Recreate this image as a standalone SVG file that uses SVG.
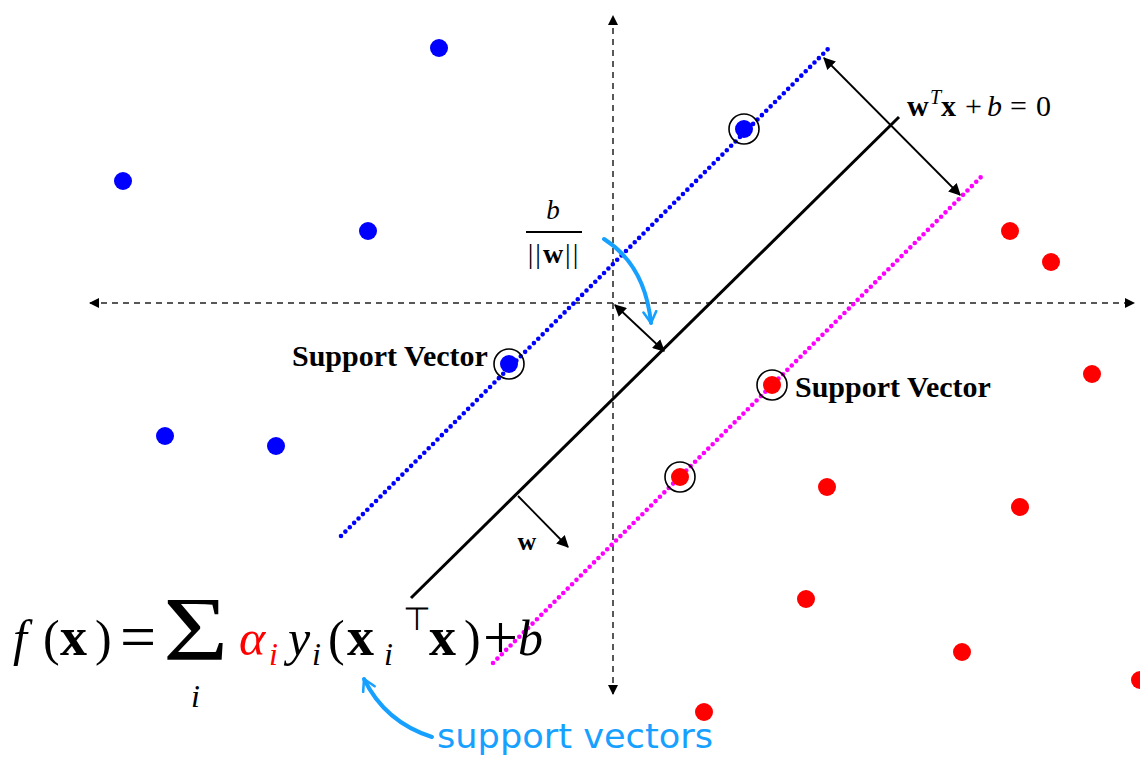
<svg xmlns="http://www.w3.org/2000/svg" width="1140" height="759" viewBox="0 0 1140 759">
<style>
.axis{stroke:#222;stroke-width:1.5;stroke-dasharray:6 5;fill:none}
.blueline{stroke:#0000ff;stroke-width:4.6;stroke-dasharray:0 6.2;stroke-linecap:round;fill:none}
.magline{stroke:#ff00ff;stroke-width:4.6;stroke-dasharray:0 6.2;stroke-linecap:round;fill:none}
.hyper{stroke:#000;stroke-width:3;fill:none}
.arr{stroke:#000;stroke-width:1.8;fill:none}
.cyan{stroke:#16a0ff;stroke-width:4;fill:none;stroke-linecap:round}
.bdot{fill:#0000ff}
.rdot{fill:#ff0000}
.ring{fill:none;stroke:#000;stroke-width:1.6}
.sv{font-family:"Liberation Serif",serif;font-weight:bold;font-size:30px;fill:#000}
.m{font-family:"Liberation Serif",serif;fill:#000}
.red{fill:#ff0000}
.it{font-style:italic}
.bf{font-weight:bold}
.note{font-family:"DejaVu Sans",sans-serif;font-size:33px;fill:#16a0ff}
</style>
<defs>
<marker id="ah" viewBox="0 0 10 10" refX="9" refY="5" markerWidth="10" markerHeight="10" markerUnits="userSpaceOnUse" orient="auto-start-reverse">
<path d="M0,0 L10,5 L0,10 Z" fill="#000"/>
</marker>
<marker id="ah2" viewBox="0 0 10 10" refX="9" refY="5" markerWidth="12" markerHeight="12" markerUnits="userSpaceOnUse" orient="auto-start-reverse">
<path d="M0,0 L10,5 L0,10 Z" fill="#000"/>
</marker>
<marker id="cy" viewBox="0 0 10 10" refX="8" refY="5" markerWidth="16" markerHeight="16" markerUnits="userSpaceOnUse" orient="auto">
<path d="M1,1 L8,5 L1,9" fill="none" stroke="#16a0ff" stroke-width="1.6" stroke-linecap="round" stroke-linejoin="round"/>
</marker>
</defs>
<g id="connectors">
<line class="axis" x1="613" y1="694" x2="613" y2="16" marker-start="url(#ah)" marker-end="url(#ah)"/>
<line class="axis" x1="90" y1="303" x2="1134" y2="303" marker-start="url(#ah)" marker-end="url(#ah)"/>
<line class="blueline" x1="341" y1="536" x2="829" y2="48"/>
<line class="magline" x1="493" y1="663" x2="982" y2="176"/>
<line class="hyper" x1="411" y1="598" x2="899" y2="117"/>
<line class="arr" x1="824" y1="58" x2="960" y2="195" marker-start="url(#ah2)" marker-end="url(#ah2)"/>
<line class="arr" x1="615" y1="305" x2="664" y2="351" marker-start="url(#ah2)" marker-end="url(#ah2)"/>
<line class="arr" x1="518" y1="496" x2="568" y2="547" marker-end="url(#ah2)"/>
<path class="cyan" d="M604,239 Q645,265 651,323" marker-end="url(#cy)"/>
<path class="cyan" d="M432,737 Q385,722 364,679" marker-end="url(#cy)"/>
</g>
<g id="blue-points">
<circle class="bdot" cx="439" cy="48" r="9"/>
<circle class="bdot" cx="123" cy="181" r="9"/>
<circle class="bdot" cx="368" cy="231" r="9"/>
<circle class="bdot" cx="165" cy="436" r="9"/>
<circle class="bdot" cx="276" cy="446" r="9"/>
</g>
<g id="red-points">
<circle class="rdot" cx="1010" cy="231" r="9"/>
<circle class="rdot" cx="1051" cy="262" r="9"/>
<circle class="rdot" cx="1092" cy="374" r="9"/>
<circle class="rdot" cx="827" cy="487" r="9"/>
<circle class="rdot" cx="1020" cy="507" r="9"/>
<circle class="rdot" cx="806" cy="599" r="9"/>
<circle class="rdot" cx="962" cy="652" r="9"/>
<circle class="rdot" cx="704" cy="712" r="9"/>
<circle class="rdot" cx="1140" cy="680" r="9"/>
</g>
<g id="support-vectors">
<circle class="ring" cx="744" cy="129" r="15"/><circle class="bdot" cx="744" cy="129" r="9"/>
<circle class="ring" cx="509" cy="364" r="15"/><circle class="bdot" cx="509" cy="364" r="9"/>
<circle class="ring" cx="772" cy="385" r="15"/><circle class="rdot" cx="772" cy="385" r="9"/>
<circle class="ring" cx="680" cy="477" r="15"/><circle class="rdot" cx="680" cy="477" r="9"/>
</g>
<g id="label-sv-left"><text class="sv" x="292" y="366">Support Vector</text></g>
<g id="label-sv-right"><text class="sv" x="795" y="397">Support Vector</text></g>
<g id="label-hyperplane">
<text class="m" font-size="30" y="116"><tspan x="907" class="bf">w</tspan><tspan x="930" y="104" class="it" font-size="20">T</tspan><tspan x="941" y="116" class="bf">x</tspan><tspan x="965">+</tspan><tspan x="987" class="it">b</tspan><tspan x="1010">=</tspan><tspan x="1036">0</tspan></text>
</g>
<g id="label-offset">
<text class="m it" font-size="27" x="553" y="219" text-anchor="middle">b</text>
<line x1="526" y1="232" x2="582" y2="232" stroke="#000" stroke-width="2"/>
<text class="m" font-size="28" x="554" y="263" text-anchor="middle" letter-spacing="2">||<tspan class="bf">w</tspan>||</text>
</g>
<g id="label-w"><text class="m bf" font-size="26" x="527" y="550" text-anchor="middle">w</text></g>
<g id="formula">
<text class="m" font-size="50" y="655"><tspan x="13" class="it">f</tspan><tspan x="43">(</tspan><tspan x="60" class="bf" font-size="54">x</tspan><tspan x="95">)</tspan><tspan x="120" y="658" font-size="64">=</tspan></text>
<text class="m" font-size="92" transform="translate(163,660) scale(1.22,1)">Σ</text>
<text class="m it" font-size="32" x="191" y="707">i</text>
<text class="m it red" font-size="50" y="655"><tspan x="239">α</tspan><tspan x="269" y="665" font-size="32">i</tspan></text>
<text class="m it" font-size="50" y="655"><tspan x="288">y</tspan><tspan x="312" y="665" font-size="32">i</tspan></text>
<text class="m" font-size="50" y="655"><tspan x="328">(</tspan><tspan x="347" class="bf" font-size="54">x</tspan><tspan x="384" y="665" class="it" font-size="32">i</tspan><tspan x="403" y="630" font-size="32">⊤</tspan><tspan x="429" y="655" class="bf" font-size="54">x</tspan><tspan x="464">)</tspan><tspan x="483" y="658" font-size="62">+</tspan><tspan x="518" y="655" class="it">b</tspan></text>
</g>
<g id="label-support-vectors"><text class="note" x="437" y="748" textLength="276" lengthAdjust="spacingAndGlyphs">support vectors</text></g>
</svg>
